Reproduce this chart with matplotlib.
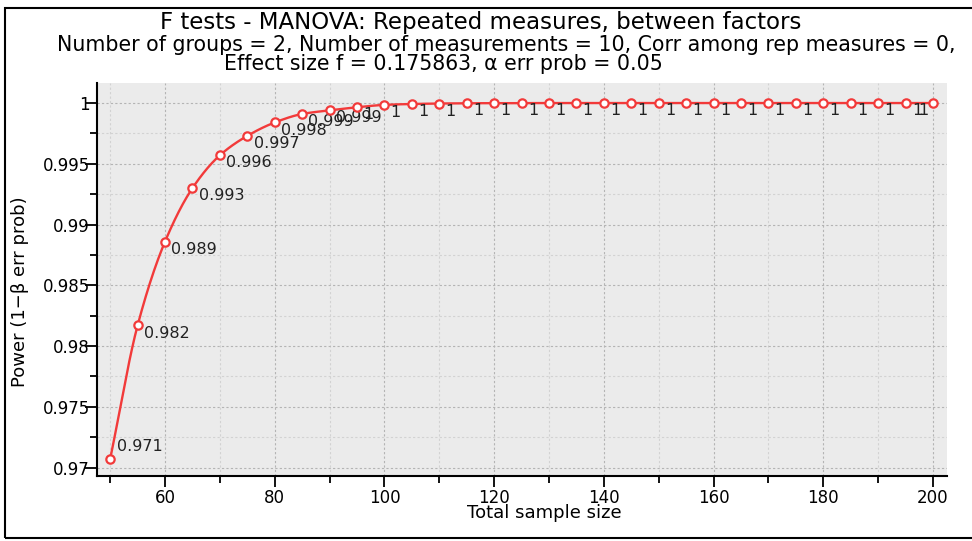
import numpy as np
import matplotlib
matplotlib.use("Agg")
import matplotlib.pyplot as plt
from matplotlib.patches import Rectangle
from matplotlib.ticker import MultipleLocator

# total sample size and power
sample_size = [50, 55, 60, 65, 70, 75, 80, 85, 90, 95, 100,
               105, 110, 115, 120, 125, 130, 135, 140, 145, 150,
               155, 160, 165, 170, 175, 180, 185, 190, 195, 200]
power = [0.9707, 0.9817, 0.9886, 0.9930, 0.9957, 0.9973, 0.9984, 0.9991, 0.9994, 0.99965, 0.99985,
         0.99992, 0.99996, 0.99998, 0.99999, 0.99999, 1.0, 1.0, 1.0, 1.0, 1.0,
         1.0, 1.0, 1.0, 1.0, 1.0, 1.0, 1.0, 1.0, 1.0, 1.0]

title = "F tests - MANOVA: Repeated measures, between factors"
sub1 = "Number of groups = 2, Number of measurements = 10, Corr among rep measures = 0,"
sub2 = "Effect size f = 0.175863, \u03b1 err prob = 0.05"

plt.rcParams['font.family'] = ['DejaVu Sans']


def smooth_line(x, y, n=20):
    # monotone cubic (Fritsch-Carlson) so the drawn curve bends like the original
    x = np.asarray(x, float)
    y = np.asarray(y, float)
    h = np.diff(x)
    d = np.diff(y) / h
    m = np.zeros_like(y)
    m[0], m[-1] = d[0], d[-1]
    for k in range(1, len(x) - 1):
        if d[k - 1] * d[k] > 0:
            w1 = 2 * h[k] + h[k - 1]
            w2 = h[k] + 2 * h[k - 1]
            m[k] = (w1 + w2) / (w1 / d[k - 1] + w2 / d[k])
    xs, ys = [], []
    for k in range(len(x) - 1):
        t = np.linspace(0, 1, n, endpoint=False)
        h00 = 2 * t**3 - 3 * t**2 + 1
        h10 = t**3 - 2 * t**2 + t
        h01 = -2 * t**3 + 3 * t**2
        h11 = t**3 - t**2
        xs.append(x[k] + t * h[k])
        ys.append(h00 * y[k] + h10 * h[k] * m[k] + h01 * y[k + 1] + h11 * h[k] * m[k + 1])
    xs.append([x[-1]])
    ys.append([y[-1]])
    return np.concatenate(xs), np.concatenate(ys)


fig = plt.figure(figsize=(9.72, 5.41), dpi=100)
ax = fig.add_axes([0.0998, 0.120, 0.8742, 0.7266])
ax.set_facecolor("#ebebeb")

red = "#f23a3a"
sx, sy = smooth_line(sample_size, power)
ax.plot(sx, sy, color=red, lw=1.7, zorder=3, clip_on=False)
ax.plot(sample_size, power, ls="none", marker="o", ms=6,
        mfc="white", mec=red, mew=1.6, zorder=4, clip_on=False)

for i, (x, y) in enumerate(zip(sample_size, power)):
    lab = f"{y:.3g}"
    if i == 0:
        ax.annotate(lab, (x, y), xytext=(5, 9), textcoords="offset points",
                    ha="left", va="center", fontsize=11.5, color="#222222")
    elif i == len(power) - 1:
        ax.annotate(lab, (x, y), xytext=(-3, -5.5), textcoords="offset points",
                    ha="right", va="center", fontsize=11.5, color="#222222")
    else:
        ax.annotate(lab, (x, y), xytext=(4.5, -5.5), textcoords="offset points",
                    ha="left", va="center", fontsize=11.5, color="#222222")

ax.set_xlim(47.6, 202.5)
ax.set_ylim(0.9693, 1.00165)
ax.xaxis.set_minor_locator(MultipleLocator(10))
ax.yaxis.set_minor_locator(MultipleLocator(0.0025))
ax.set_xticks([60, 80, 100, 120, 140, 160, 180, 200])
ax.set_yticks([0.97, 0.975, 0.98, 0.985, 0.99, 0.995, 1.0])
ax.set_yticklabels(["0.97", "0.975", "0.98", "0.985", "0.99", "0.995", "1"])

ax.grid(which="major", color="#b4b4b4", ls=(0, (2, 2)), lw=0.8)
ax.grid(which="minor", color="#d2d2d2", ls=(0, (2, 2)), lw=0.8)
ax.set_axisbelow(True)

for s in ["top", "right"]:
    ax.spines[s].set_visible(False)
for s in ["left", "bottom"]:
    ax.spines[s].set_linewidth(1.5)

ax.tick_params(axis="x", which="major", direction="out", length=8, width=1.3,
               labelsize=12, pad=1)
ax.tick_params(axis="x", which="minor", direction="out", length=5, width=1.3)
ax.tick_params(axis="y", which="major", direction="out", length=9, width=1.3,
               labelsize=12, pad=-4)
ax.tick_params(axis="y", which="minor", direction="out", length=5, width=1.3)

fig.text(544 / 972, 1 - 513 / 541, "Total sample size", ha="center", va="center",
         fontsize=13)
fig.text(20 / 972, 1 - 292 / 541, "Power (1\u2212\u03b2 err prob)", ha="center",
         va="center", rotation=90, fontsize=13)

fig.text(481 / 972, 1 - 22 / 541, title, ha="center", va="center", fontsize=16.5)
fig.text(57 / 972, 1 - 45 / 541, sub1, ha="left", va="center", fontsize=14.8)
fig.text(443 / 972, 1 - 64 / 541, sub2, ha="center", va="center", fontsize=14.8)

fig.patches.append(Rectangle((5 / 972, 3 / 541), 1.1, 530 / 541, transform=fig.transFigure,
                             fill=False, edgecolor="black", lw=1.5))

fig.savefig("out.png", dpi=100)
